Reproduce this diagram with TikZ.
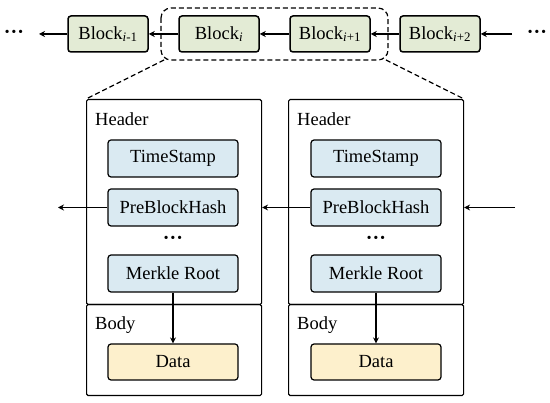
\documentclass[tikz,border=0pt]{standalone}
\usepackage{fontspec}
\setmainfont{Liberation Serif}
\usetikzlibrary{arrows.meta,positioning}
\definecolor{blkgreen}{HTML}{E3EBD5}
\definecolor{fieldblue}{HTML}{DAEAF2}
\definecolor{datayellow}{HTML}{FDF0CC}
\begin{document}
\begin{tikzpicture}[x=1pt,y=-1pt,
  every node/.style={font=\rmfamily\fontsize{18.5}{22}\selectfont, inner sep=0pt},
  chainblock/.style={draw, line width=1.5pt, rounded corners=3pt, fill=blkgreen, minimum width=80pt, minimum height=36pt},
  fieldbox/.style={draw, line width=1.2pt, rounded corners=3pt, fill=fieldblue, minimum width=130pt, minimum height=37pt},
  databox/.style={draw, line width=1.2pt, rounded corners=3pt, fill=datayellow, minimum width=130pt, minimum height=36pt},
  partbox/.style={draw, line width=1.1pt, rounded corners=1.5pt, minimum width=175pt, anchor=north west},
  arr/.style={-{Stealth[length=6pt,width=6pt]}, line width=1.1pt},
  dotsym/.style={font=\rmfamily\bfseries\fontsize{20}{22}\selectfont}
]
\useasboundingbox (0,0) rectangle (550,403);

% top chain
\node[chainblock] (bm1) at (108,34) {Block\textsubscript{\textit{i}-1}};
\node[chainblock] (b0) at (219,34) {Block\textsubscript{\textit{i}}};
\node[chainblock] (bp1) at (330,34) {Block\textsubscript{\textit{i}+1}};
\node[chainblock] (bp2) at (440,34) {Block\textsubscript{\textit{i}+2}};
\node[dotsym] (dl) at (14,34) {···};
\node[dotsym] (dr) at (537,34) {···};
\coordinate (al) at (39,34);
\coordinate (ar) at (512,34);
\draw[arr] (bm1.west) -- (al);
\draw[arr] (b0.west) -- (bm1.east);
\draw[arr] (bp1.west) -- (b0.east);
\draw[arr] (bp2.west) -- (bp1.east);
\draw[arr] (ar) -- (bp2.east);

% dashed selection
\draw[line width=1.2pt, dash pattern=on 5pt off 3pt, rounded corners=10pt] (161,8) rectangle (388,60);
\coordinate (selsw) at (164,60);
\coordinate (selse) at (386,60);

% left block detail
\node[partbox, minimum height=205pt] (lh) at (86,99) {};
\node[partbox, minimum height=91pt] (lb) at (86,304) {};
\node[anchor=west] (lhl) at (95,119) {Header};
\node[fieldbox] (lts) at (173,158.5) {TimeStamp};
\node[fieldbox] (lpb) at (173,207.5) {PreBlockHash};
\node[dotsym] (ldots) at (173,240) {···};
\node[fieldbox] (lmr) at (173,273.5) {Merkle Root};
\node[anchor=west] (lbl) at (95,325) {Body};
\node[databox] (ld) at (173,362) {Data};

% right block detail
\node[partbox, minimum height=205pt] (rh) at (288,99) {};
\node[partbox, minimum height=91pt] (rb) at (288,304) {};
\node[anchor=west] (rhl) at (297,119) {Header};
\node[fieldbox] (rts) at (376,158.5) {TimeStamp};
\node[fieldbox] (rpb) at (376,207.5) {PreBlockHash};
\node[dotsym] (rdots) at (376,240) {···};
\node[fieldbox] (rmr) at (376,273.5) {Merkle Root};
\node[anchor=west] (rbl) at (297,325) {Body};
\node[databox] (rd) at (376,362) {Data};

% zoom lines
\draw[line width=1.2pt, dash pattern=on 5pt off 3pt] (selsw) -- (lh.north west);
\draw[line width=1.2pt, dash pattern=on 5pt off 3pt] (selse) -- (rh.north east);

% arrows
\coordinate (pl) at (58,207.5);
\coordinate (pr) at (515,207.5);
\draw[arr] (lpb.west) -- (pl);
\draw[arr] (rpb.west) -- (lpb.west -| lh.east);
\draw[arr] (pr) -- (rpb.west -| rh.east);
\draw[arr] (lmr.south) -- (ld.north);
\draw[arr] (rmr.south) -- (rd.north);
\end{tikzpicture}
\end{document}
